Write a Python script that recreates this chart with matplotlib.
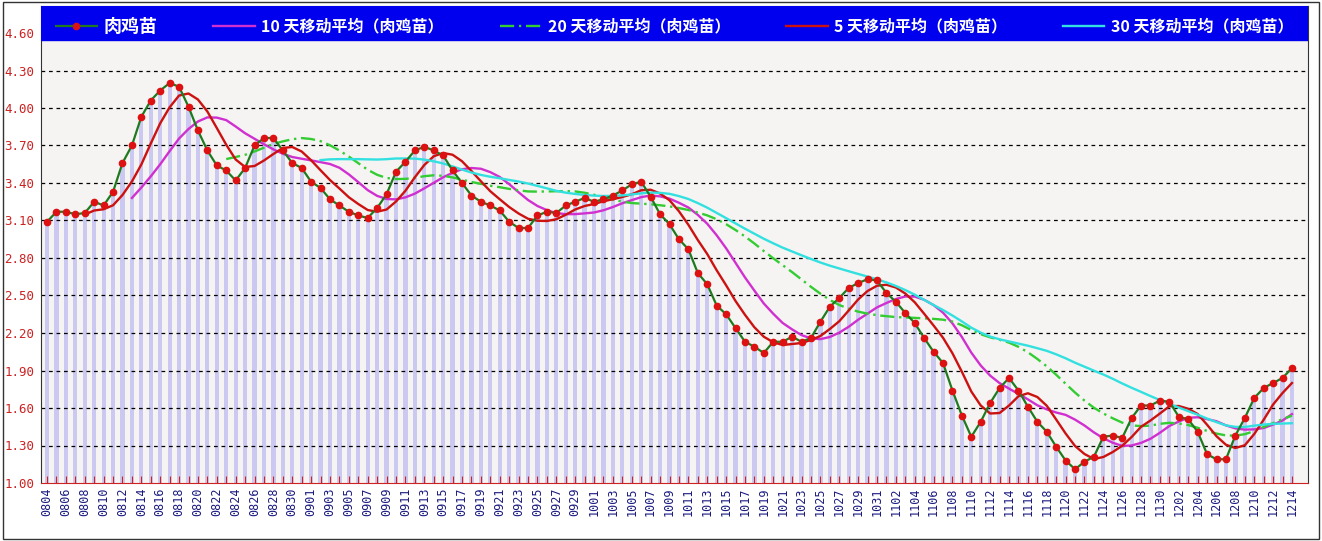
import matplotlib
matplotlib.use('Agg')
import matplotlib.pyplot as plt
import numpy as np
import pandas as pd
from datetime import date, timedelta

plt.rcParams['font.family'] = ['Noto Sans CJK SC', 'DejaVu Sans']

# daily price of broiler chicks, 0804 .. 1214
prices = [
    3.09, 3.17, 3.17, 3.15, 3.16, 3.25, 3.22, 3.33, 3.56, 3.70,
    3.93, 4.06, 4.14, 4.20, 4.17, 4.01, 3.82, 3.66, 3.54, 3.50,
    3.42, 3.52, 3.70, 3.76, 3.76, 3.66, 3.56, 3.52, 3.41, 3.36,
    3.27, 3.22, 3.17, 3.14, 3.12, 3.20, 3.31, 3.49, 3.57, 3.66,
    3.69, 3.66, 3.62, 3.50, 3.40, 3.30, 3.25, 3.22, 3.18, 3.09,
    3.04, 3.04, 3.14, 3.17, 3.16, 3.22, 3.25, 3.28, 3.25, 3.27,
    3.30, 3.34, 3.39, 3.41, 3.29, 3.15, 3.07, 2.95, 2.87, 2.68,
    2.59, 2.42, 2.35, 2.24, 2.13, 2.09, 2.04, 2.13, 2.13, 2.17,
    2.13, 2.16, 2.29, 2.41, 2.48, 2.56, 2.60, 2.63, 2.62, 2.52,
    2.45, 2.36, 2.28, 2.16, 2.05, 1.96, 1.74, 1.54, 1.37, 1.49,
    1.64, 1.76, 1.84, 1.74, 1.61, 1.49, 1.41, 1.29, 1.18, 1.11,
    1.17, 1.21, 1.37, 1.38, 1.36, 1.52, 1.62, 1.62, 1.66, 1.65,
    1.53, 1.51, 1.41, 1.23, 1.19, 1.19, 1.38, 1.52, 1.68, 1.76,
    1.80, 1.84, 1.92,
]
start_day = date(2012, 8, 4)
dates = [(start_day + timedelta(days=i)).strftime('%m%d') for i in range(len(prices))]

ma_windows = [10, 20, 5, 30]
ma_names = ['10 天移动平均（肉鸡苗）', '20 天移动平均（肉鸡苗）',
            '5 天移动平均（肉鸡苗）', '30 天移动平均（肉鸡苗）']
ma_colors = ['#d030d0', '#33cc33', '#cc1111', '#33e0e0']
ma_styles = ['-', (0, (6, 2, 1, 2)), '-', '-']

ytick_vals = [1.00, 1.30, 1.60, 1.90, 2.20, 2.50, 2.80, 3.10, 3.40, 3.70, 4.00, 4.30, 4.60]

fig = plt.figure(figsize=(13.22, 5.41), dpi=100)
fig.patch.set_facecolor('white')
ax = fig.add_axes([41 / 1322, 58 / 541, 1267 / 1322, 477 / 541])
ax.set_facecolor('#f6f4f2')

x = np.arange(len(prices))
s = pd.Series(prices)

# bars
ax.bar(x, prices, width=0.45, color='#cbc9f2', zorder=1)

# grid
for v in ytick_vals[1:-1]:
    ax.axhline(v, color='black', lw=0.9, ls=(0, (3, 3)), zorder=2)

# moving averages
handles = []
main, = ax.plot(x, prices, color='#1f7a1f', lw=1.6, marker='o', ms=4.5,
                mfc='#dd1111', mec='#dd1111', zorder=5, label='肉鸡苗')
handles.append(main)
for w, name, c, ls in zip(ma_windows, ma_names, ma_colors, ma_styles):
    m = s.rolling(w).mean()
    h, = ax.plot(x, m, color=c, lw=1.7, ls=ls, zorder=4, label=name)
    handles.append(h)

ax.set_xlim(-0.64, len(prices) - 1 + 1.7)
ax.set_ylim(1.0, 4.816)

# legend band
ax.add_patch(plt.Rectangle((0, 0.929), 1, 0.071, transform=ax.transAxes,
                           color='#0000ee', zorder=6))
leg = ax.legend(handles=handles, loc='upper center', bbox_to_anchor=(0.5, 1.008),
                ncol=5, frameon=False, fontsize=11.5, handlelength=2.6,
                columnspacing=3.5, handletextpad=0.4)
leg.set_zorder(7)
for t in leg.get_texts():
    t.set_color('white')
    t.set_fontweight('bold')
leg.get_texts()[0].set_fontsize(13)

ax.set_yticks(ytick_vals)
ax.set_yticklabels([f'{v:.2f}' for v in ytick_vals], color='#cc2222',
                   fontsize=9, family='DejaVu Sans Mono')
ax.tick_params(axis='y', length=0, pad=5)

ax.set_xticks(x)
ax.set_xticklabels([d if i % 2 == 0 else '' for i, d in enumerate(dates)],
                   rotation=90, color='#1a1a80', fontsize=8.5,
                   family='DejaVu Sans Mono')
ax.tick_params(axis='x', length=5, color='#cc2222', direction='in', pad=3)

for side in ['top', 'right', 'left']:
    ax.spines[side].set_color('#333333')
ax.spines['bottom'].set_color('#cc2222')

fig.add_artist(plt.Rectangle((0.002, 0.004), 0.996, 0.992, transform=fig.transFigure,
                             fill=False, edgecolor='#333333', lw=1))

plt.savefig('out.png', dpi=100)
